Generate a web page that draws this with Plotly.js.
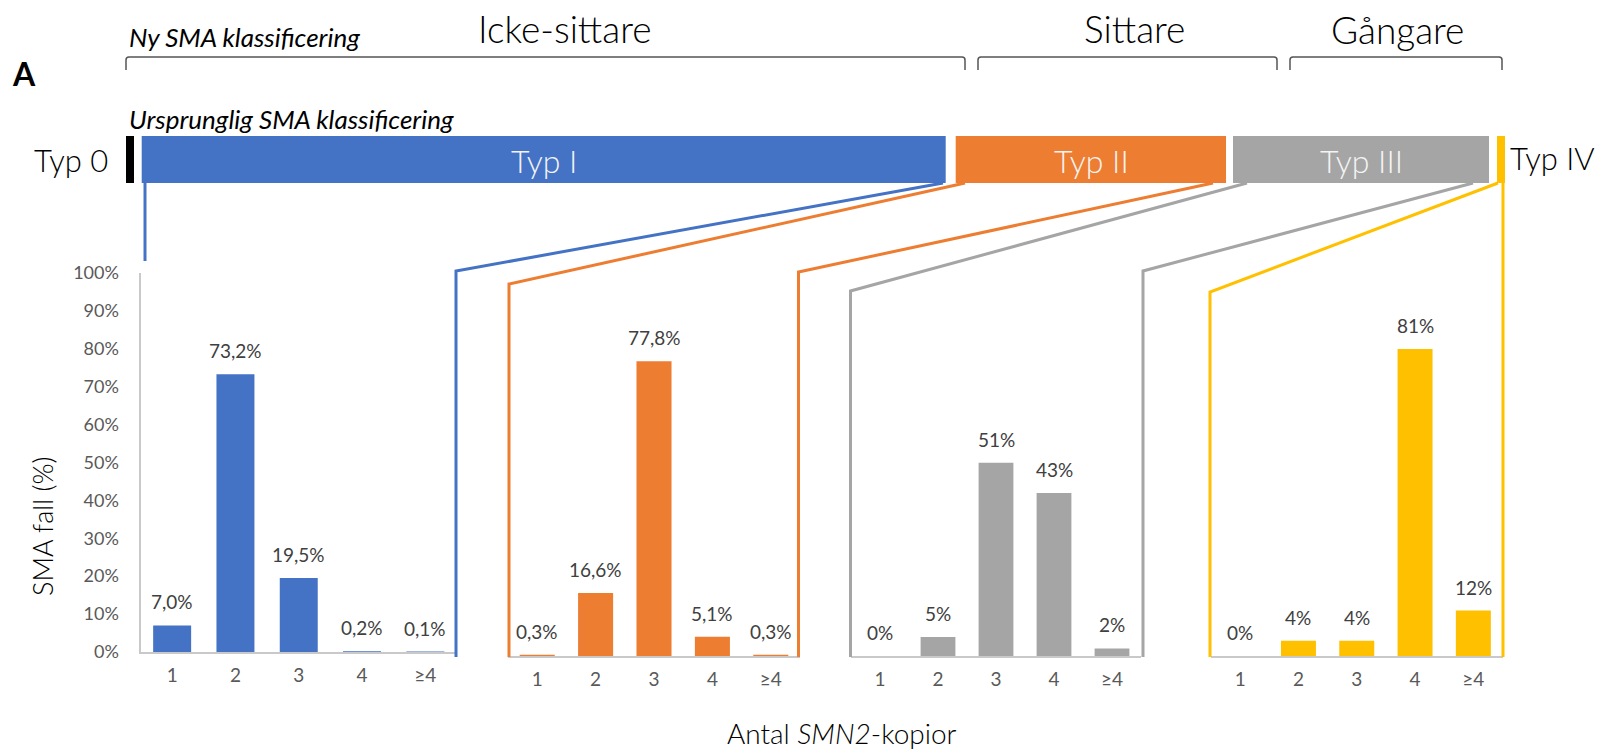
<!DOCTYPE html>
<html>
<head>
<meta charset="utf-8">
<script src="https://cdn.plot.ly/plotly-3.0.1.min.js"></script>
<style>html,body{margin:0;padding:0;background:#fff;}#chart{width:1605px;height:754px;}</style>
</head>
<body>
<div id="chart"></div>
<script>
// ---------- data ----------
const categories = ['1', '2', '3', '4', '≥4'];
const typI   = [7.0, 73.2, 19.5, 0.2, 0.1];
const typII  = [0.3, 16.6, 77.8, 5.1, 0.3];
const typIII = [0, 5, 51, 43, 2];
const typIV  = [0, 4, 4, 81, 12];
const labelsI   = ['7,0%', '73,2%', '19,5%', '0,2%', '0,1%'];
const labelsII  = ['0,3%', '16,6%', '77,8%', '5,1%', '0,3%'];
const labelsIII = ['0%', '5%', '51%', '43%', '2%'];
const labelsIV  = ['0%', '4%', '4%', '81%', '12%'];
const yTickVals = [0, 10, 20, 30, 40, 50, 60, 70, 80, 90, 100];
const yTickText = ['0%', '10%', '20%', '30%', '40%', '50%', '60%', '70%', '80%', '90%', '100%'];
const newClasses = ['Icke-sittare', 'Sittare', 'Gångare'];
const origTypes = ['Typ 0', 'Typ I', 'Typ II', 'Typ III', 'Typ IV'];

// ---------- helpers / styles ----------
const W = 1605, H = 754;
const X = p => p / W;
const Y = p => 1 - p / H;
const BLUE = '#4472C4', ORANGE = '#ED7D31', GRAY = '#A5A5A5', YELLOW = '#FFC000';
const FONT = 'Lato, "Open Sans", sans-serif';
const AXIS_LINE = '#c9c9c9';

const panels = [
  {vals: typI,   labels: labelsI,   color: BLUE,   xa: 'x',  ya: 'y'},
  {vals: typII,  labels: labelsII,  color: ORANGE, xa: 'x2', ya: 'y2'},
  {vals: typIII, labels: labelsIII, color: GRAY,   xa: 'x3', ya: 'y2'},
  {vals: typIV,  labels: labelsIV,  color: YELLOW, xa: 'x4', ya: 'y2'}
];

const traces = panels.map(p => ({
  type: 'bar', x: categories, y: p.vals, xaxis: p.xa, yaxis: p.ya,
  marker: {color: p.color, line: {width: 0}}, hoverinfo: 'skip'
}));

const xDomains = [[140.5, 457], [508, 800], [851, 1141], [1211, 1502.5]];

function xAxis(dom, anchor) {
  return {
    domain: [X(dom[0]), X(dom[1])], anchor: anchor, type: 'category',
    range: [-0.5, 4.5], showline: true, linecolor: AXIS_LINE, linewidth: 2,
    showgrid: false, zeroline: false, ticks: '', ticklabelstandoff: 5,
    tickfont: {family: FONT, size: 19, color: '#595959'}, fixedrange: true
  };
}

const annotations = [];
panels.forEach(p => {
  categories.forEach((c, j) => {
    annotations.push({
      xref: p.xa, yref: p.ya, x: j, y: p.vals[j], text: p.labels[j],
      showarrow: false, xanchor: 'center', yanchor: 'middle', yshift: 23.5,
      font: {family: FONT, size: 19, color: '#404040'}
    });
  });
});

function txt(text, x, y, size, opts) {
  return Object.assign({
    xref: 'paper', yref: 'paper', x: X(x), y: Y(y), text: text, showarrow: false,
    xanchor: 'center', yanchor: 'middle',
    font: {family: FONT, size: size, color: '#000'}
  }, opts || {});
}
const light = (size, color) => ({family: FONT, size: size, color: color || '#000', weight: 300});

// top texts
annotations.push(txt('<b>A</b>', 24, 73, 32));
annotations.push(txt('<i>Ny SMA klassificering</i>', 127, 37, 26, {xanchor: 'left'}));
annotations.push(txt('<i>Ursprunglig SMA klassificering</i>', 127, 119, 26, {xanchor: 'left'}));
annotations.push(txt(newClasses[0], 565, 29, 37, {font: light(37)}));
annotations.push(txt(newClasses[1], 1134, 29, 37, {font: light(37)}));
annotations.push(txt(newClasses[2], 1397, 30, 37, {font: light(37)}));
annotations.push(txt(origTypes[0], 110, 160, 31, {xanchor: 'right', font: light(31)}));
annotations.push(txt(origTypes[1], 543.7, 160, 32, {font: light(32, '#f4f4f4')}));
annotations.push(txt(origTypes[2], 1091, 160, 32, {font: light(32, '#f4f4f4')}));
annotations.push(txt(origTypes[3], 1361, 160, 32, {font: light(32, '#f4f4f4')}));
annotations.push(txt(origTypes[4], 1508, 158, 31, {xanchor: 'left', font: light(31)}));
// axis titles
annotations.push(txt('SMA fall (%)', 42, 527, 27, {textangle: -90, font: light(27)}));
annotations.push(txt('Antal <i>SMN2</i>-kopior', 842, 733, 28, {font: light(28)}));

// shapes
const shapes = [];
function bracket(x0, x1) {
  const yt = 57, yb = 70, r = 3;
  return {
    type: 'path', xref: 'paper', yref: 'paper',
    path: `M ${X(x0)},${Y(yb)} L ${X(x0)},${Y(yt + r)} Q ${X(x0)},${Y(yt)} ${X(x0 + r)},${Y(yt)} ` +
          `L ${X(x1 - r)},${Y(yt)} Q ${X(x1)},${Y(yt)} ${X(x1)},${Y(yt + r)} L ${X(x1)},${Y(yb)}`,
    line: {color: '#555555', width: 1.5}
  };
}
shapes.push(bracket(126, 965), bracket(978, 1277), bracket(1290, 1502));

function rect(x0, x1, color) {
  return {type: 'rect', xref: 'paper', yref: 'paper', x0: X(x0), x1: X(x1), y0: Y(183), y1: Y(136),
          fillcolor: color, line: {width: 0}, layer: 'below'};
}
shapes.push(rect(126, 134, '#000000'), rect(141.7, 945.7, BLUE), rect(955.7, 1226, ORANGE),
            rect(1233, 1489, GRAY), rect(1497, 1505, YELLOW));

function poly(pts, color) {
  return {
    type: 'path', xref: 'paper', yref: 'paper',
    path: pts.map((p, i) => (i ? 'L ' : 'M ') + X(p[0]) + ',' + Y(p[1])).join(' '),
    line: {color: color, width: 3}
  };
}
shapes.push(
  poly([[145, 183], [145, 261]], BLUE),
  poly([[943, 183], [456, 271], [456, 657]], BLUE),
  poly([[965, 183], [509, 284], [509, 657]], ORANGE),
  poly([[1213, 183], [798.5, 272], [798.5, 657]], ORANGE),
  poly([[1247, 183], [850.5, 291], [850.5, 657]], GRAY),
  poly([[1473, 183], [1143, 271], [1143, 657]], GRAY),
  poly([[1498, 183], [1210, 292], [1210, 657]], YELLOW),
  poly([[1503, 183], [1503, 657]], YELLOW)
);

const layout = {
  width: W, height: H, margin: {l: 0, r: 0, t: 0, b: 0},
  paper_bgcolor: '#ffffff', plot_bgcolor: 'rgba(0,0,0,0)',
  showlegend: false, bargap: 0.4,
  font: {family: FONT},
  xaxis:  xAxis(xDomains[0], 'y'),
  xaxis2: xAxis(xDomains[1], 'y2'),
  xaxis3: xAxis(xDomains[2], 'y2'),
  xaxis4: xAxis(xDomains[3], 'y2'),
  yaxis: {
    domain: [Y(652), Y(272.7)], range: [0, 100], anchor: 'x',
    tickvals: yTickVals, ticktext: yTickText, showline: true, linecolor: AXIS_LINE, linewidth: 2,
    showgrid: false, zeroline: false, ticks: '', ticklabelstandoff: 16,
    tickfont: {family: FONT, size: 18, color: '#595959'}, fixedrange: true
  },
  yaxis2: {
    domain: [Y(656), Y(277)], range: [0, 100], anchor: 'x2', visible: false, fixedrange: true
  },
  annotations: annotations,
  shapes: shapes
};

Plotly.newPlot('chart', traces, layout, {staticPlot: true, displayModeBar: false});
</script>
</body>
</html>
